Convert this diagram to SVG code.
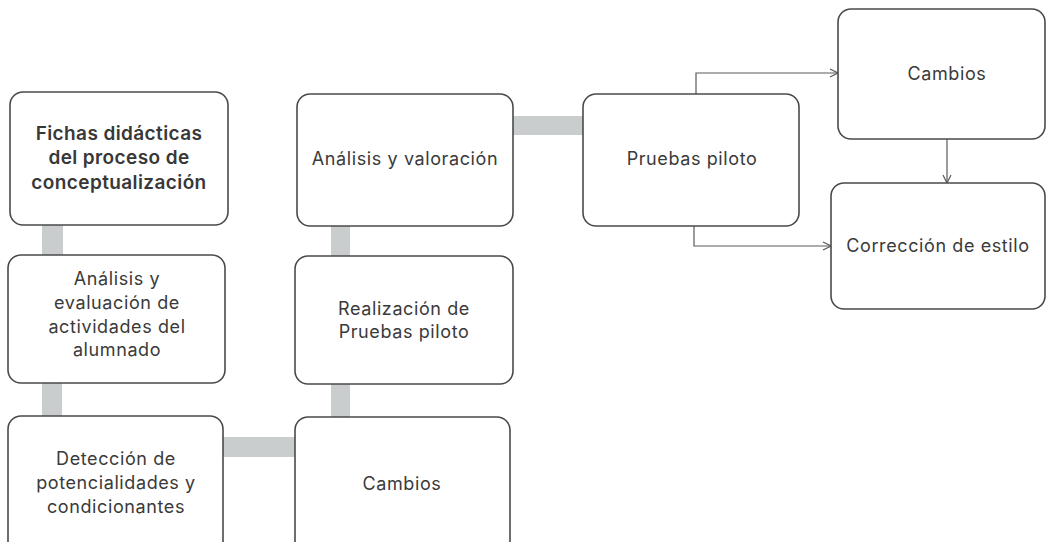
<svg xmlns="http://www.w3.org/2000/svg" width="1047" height="542" viewBox="0 0 1047 542">
  <defs>
    <style>
      .box { fill: #ffffff; stroke: #4a4a4a; stroke-width: 1.6; }
      .bar { fill: #cacdce; }
      .txt { font-family: Inter, "Open Sans", "Liberation Sans", sans-serif; font-size: 18px; letter-spacing: 0.6px; fill: #3a3a3a; text-anchor: middle; }
      .bold { font-weight: 600; font-size: 19px; letter-spacing: 0.4px; fill: #383838; }
      .arrow { fill: none; stroke: #5a5a5a; stroke-width: 1.2; }
    </style>
    <marker id="chev" viewBox="0 0 10 10" refX="9" refY="5" markerWidth="10" markerHeight="10" markerUnits="userSpaceOnUse" orient="auto">
      <path d="M1,1 L9,5 L1,9" fill="none" stroke="#5a5a5a" stroke-width="1.2"/>
    </marker>
  </defs>
  <rect width="1047" height="542" fill="#ffffff"/>

  <g id="connectors">
    <rect class="bar" x="42" y="224" width="21" height="32"/>
    <rect class="bar" x="42" y="382" width="20" height="35"/>
    <rect class="bar" x="223" y="437" width="74" height="20"/>
    <rect class="bar" x="331" y="226" width="19" height="31"/>
    <rect class="bar" x="331" y="384" width="19" height="33"/>
    <rect class="bar" x="513" y="116" width="71" height="19"/>
    <path class="arrow" d="M696,94 V73 H838" marker-end="url(#chev)"/>
    <path class="arrow" d="M947,139 V183" marker-end="url(#chev)"/>
    <path class="arrow" d="M694,226 V246 H831" marker-end="url(#chev)"/>
  </g>

  <g id="fichas">
    <rect class="box" x="10" y="92" width="218" height="133" rx="13"/>
    <text class="txt bold" x="119" y="140">Fichas didácticas</text>
    <text class="txt bold" x="119" y="164">del proceso de</text>
    <text class="txt bold" x="119" y="189">conceptualización</text>
  </g>

  <g id="analisis-evaluacion">
    <rect class="box" x="8" y="255" width="217" height="128" rx="13"/>
    <text class="txt" x="117" y="285">Análisis y</text>
    <text class="txt" x="117" y="309">evaluación de</text>
    <text class="txt" x="117" y="333">actividades del</text>
    <text class="txt" x="117" y="356">alumnado</text>
  </g>

  <g id="deteccion">
    <rect class="box" x="8" y="416" width="215" height="140" rx="13"/>
    <text class="txt" x="116" y="465">Detección de</text>
    <text class="txt" x="116" y="489">potencialidades y</text>
    <text class="txt" x="116" y="513">condicionantes</text>
  </g>

  <g id="analisis-valoracion">
    <rect class="box" x="297" y="94" width="216" height="132" rx="13"/>
    <text class="txt" x="405" y="165">Análisis y valoración</text>
  </g>

  <g id="realizacion">
    <rect class="box" x="295" y="256" width="218" height="128" rx="13"/>
    <text class="txt" x="404" y="315">Realización de</text>
    <text class="txt" x="404" y="338">Pruebas piloto</text>
  </g>

  <g id="cambios-bottom">
    <rect class="box" x="295" y="417" width="215" height="140" rx="13"/>
    <text class="txt" x="402" y="490">Cambios</text>
  </g>

  <g id="pruebas-piloto">
    <rect class="box" x="583" y="94" width="216" height="132" rx="13"/>
    <text class="txt" x="692" y="165">Pruebas piloto</text>
  </g>

  <g id="cambios-top">
    <rect class="box" x="838" y="9" width="207" height="130" rx="13"/>
    <text class="txt" x="947" y="80">Cambios</text>
  </g>

  <g id="correccion">
    <rect class="box" x="831" y="183" width="214" height="126" rx="13"/>
    <text class="txt" x="938" y="252">Corrección de estilo</text>
  </g>
</svg>
